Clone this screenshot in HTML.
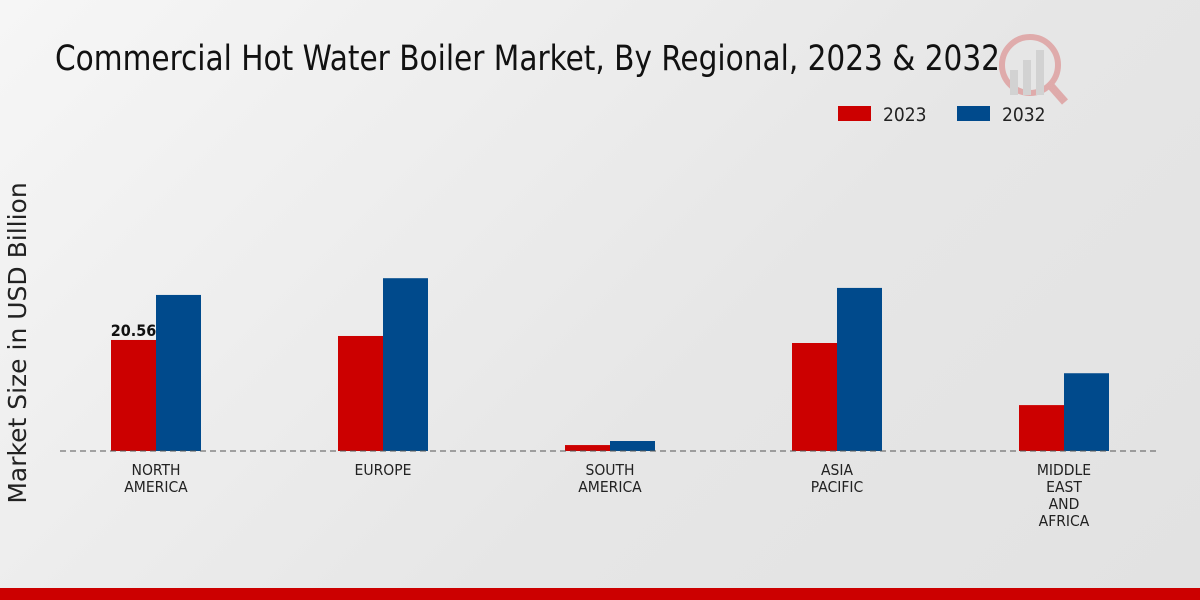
<!DOCTYPE html>
<html><head><meta charset="utf-8"><style>
html,body{margin:0;padding:0;width:1200px;height:600px;overflow:hidden}
body{background:linear-gradient(135deg,#f6f6f6 0%,#e6e6e6 60%,#e2e2e2 100%);font-family:"Liberation Sans Narrow","DejaVu Sans Condensed","Liberation Sans",sans-serif}
svg{position:absolute;left:0;top:0}
</style></head><body>
<svg width="1200" height="600">
<text x="55" y="70" font-size="35" fill="#111" textLength="945" lengthAdjust="spacingAndGlyphs">Commercial Hot Water Boiler Market, By Regional, 2023 &amp; 2032</text>
<g opacity="0.25">
<circle cx="1030" cy="65" r="28" fill="none" stroke="#c00" stroke-width="6"/>
<rect x="1010" y="70" width="8" height="25" fill="#999"/><rect x="1023" y="60" width="8" height="35" fill="#999"/><rect x="1036" y="50" width="8" height="45" fill="#999"/>
<line x1="1050" y1="85" x2="1065" y2="102" stroke="#c00" stroke-width="8"/>
</g>
<g>
<rect x="838" y="106" width="33" height="15" fill="#cc0000"/>
<text x="883" y="121" font-size="19" fill="#222">2023</text>
<rect x="957" y="106" width="33" height="15" fill="#004a8c"/>
<text x="1002" y="121" font-size="19" fill="#222">2032</text>
</g>
<text transform="translate(26,343) rotate(-90)" text-anchor="middle" font-family="'DejaVu Sans',sans-serif" font-size="25" fill="#222">Market Size in USD Billion</text>
<g id="plot"></g>
<line x1="60" y1="451" x2="1160" y2="451" stroke="#555" stroke-dasharray="6,4"/>
<rect x="0" y="588" width="1200" height="12" fill="#cc0000"/>
</svg>
<script>
const categories=[["NORTH","AMERICA"],["EUROPE"],["SOUTH","AMERICA"],["ASIA","PACIFIC"],["MIDDLE","EAST","AND","AFRICA"]];
const values2023=[20.56,21.3,1.1,20.0,8.5];
const values2032=[28.9,32.0,1.85,30.2,14.4];
const labels2023=["20.56","","","",""];
const base=451,scale=5.4,x0=156,step=227,bw=45;
const y=v=>base-v*scale;
const xc=i=>x0+i*step;
const g=document.getElementById('plot');
const NS='http://www.w3.org/2000/svg';
categories.forEach((c,i)=>{
 const r=document.createElementNS(NS,'rect');
 r.setAttribute('x',xc(i)-bw);r.setAttribute('y',y(values2023[i]));r.setAttribute('width',bw);r.setAttribute('height',values2023[i]*scale);r.setAttribute('fill','#cc0000');
 
 
 g.appendChild(r);
 const b=document.createElementNS(NS,'rect');
 b.setAttribute('x',xc(i));b.setAttribute('y',y(values2032[i]));b.setAttribute('width',bw);b.setAttribute('height',values2032[i]*scale);b.setAttribute('fill','#004a8c');
 
 
 g.appendChild(b);
 if(labels2023[i]){
  const t=document.createElementNS(NS,'text');
  t.setAttribute('x',xc(i)-bw/2);t.setAttribute('y',y(values2023[i])-4);t.setAttribute('text-anchor','middle');
  t.setAttribute('font-size','16');t.setAttribute('font-weight','bold');t.setAttribute('fill','#111');
  t.textContent=labels2023[i];
  
  
  g.appendChild(t);
 }
 c.forEach((line,j)=>{
  const t=document.createElementNS(NS,'text');
  t.setAttribute('x',xc(i));t.setAttribute('y',475+j*17);t.setAttribute('text-anchor','middle');
  t.setAttribute('font-size','15.5');t.setAttribute('fill','#222');
  t.textContent=line;
  
  
  g.appendChild(t);
 });
});
</script>
</body></html>
